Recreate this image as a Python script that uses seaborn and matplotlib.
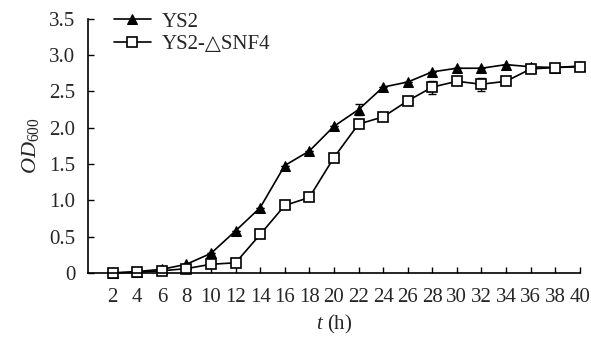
import numpy as np
import pandas as pd
import matplotlib
matplotlib.use("Agg")
import matplotlib.pyplot as plt
import seaborn as sns

# ── Data ───────────────────────────────────────────────────────────────────────
hours = [2, 4, 6, 8, 10, 12, 14, 16, 18, 20, 22, 24, 26, 28, 30, 32, 34, 36, 38, 40]
od_ys2 = [0.00, 0.02, 0.05, 0.12, 0.27, 0.58, 0.90, 1.48, 1.68, 2.02, 2.25, 2.56,
          2.63, 2.77, 2.82, 2.82, 2.87, 2.84, 2.83, 2.85]
od_snf4 = [0.00, 0.01, 0.03, 0.06, 0.12, 0.14, 0.53, 0.93, 1.04, 1.59, 2.05, 2.15,
           2.37, 2.56, 2.64, 2.60, 2.64, 2.81, 2.83, 2.84]
err_ys2 = [0, 0, 0, 0, 0, 0, 0, 0, 0, 0, 0.08, 0, 0, 0, 0, 0, 0, 0, 0, 0]
err_snf4 = [0, 0, 0, 0, 0, 0, 0, 0, 0, 0, 0, 0, 0, 0.09, 0, 0.09, 0, 0, 0, 0.05]

label_ys2 = "YS2"
label_snf4 = "YS2-\u25b3SNF4"
y_ticks = [0, 0.5, 1.0, 1.5, 2.0, 2.5, 3.0, 3.5]
y_ticklabels = ["0", "0.5", "1.0", "1.5", "2.0", "2.5", "3.0", "3.5"]

df = pd.DataFrame({
    "t": hours * 2,
    "od": od_ys2 + od_snf4,
    "err": err_ys2 + err_snf4,
    "strain": [label_ys2] * len(hours) + [label_snf4] * len(hours),
})

# ── Style ──────────────────────────────────────────────────────────────────────
sns.set_style("white")
plt.rcParams["font.family"] = ["Liberation Serif", "DejaVu Serif"]
plt.rcParams["mathtext.fontset"] = "custom"
plt.rcParams["mathtext.rm"] = "Liberation Serif"
plt.rcParams["mathtext.it"] = "Liberation Serif:italic"

fig, ax = plt.subplots(figsize=(5.91, 3.37), dpi=100)
fig.subplots_adjust(left=0.149, right=0.981, bottom=0.19, top=0.944)

sub = df[df["strain"] == label_ys2]
sns.lineplot(data=sub, x="t", y="od", ax=ax, color="black", lw=1.2,
             marker="^", markersize=7.5, markerfacecolor="black",
             markeredgecolor="black", label=label_ys2, clip_on=False)
ax.errorbar(sub["t"], sub["od"], yerr=sub["err"], fmt="none", ecolor="black",
            elinewidth=1, capsize=3, zorder=1)

sub = df[df["strain"] == label_snf4]
sns.lineplot(data=sub, x="t", y="od", ax=ax, color="black", lw=1.2,
             marker="s", markersize=6.5, markerfacecolor="white",
             markeredgecolor="black", markeredgewidth=1.2,
             label=label_snf4, clip_on=False)
ax.errorbar(sub["t"], sub["od"], yerr=sub["err"], fmt="none", ecolor="black",
            elinewidth=1, capsize=3, zorder=1)

# ── Axes ───────────────────────────────────────────────────────────────────────
ax.set_xlim(0, 40)
ax.set_ylim(0, 3.5)
ax.set_xticks(hours)
ax.set_xticklabels([str(h) for h in hours], fontsize=15)
ax.set_yticks(y_ticks)
ax.set_yticklabels(y_ticklabels, fontsize=15)
ax.tick_params(axis="both", direction="in", length=4, width=1, color="black",
               bottom=True, left=True)
ax.tick_params(axis="x", pad=11)
ax.tick_params(axis="y", pad=9)
for s in ["top", "right"]:
    ax.spines[s].set_visible(False)
for s in ["left", "bottom"]:
    ax.spines[s].set_color("black")
    ax.spines[s].set_linewidth(1.2)

ax.set_xlabel(r"$t$ (h)", fontsize=15, labelpad=4)
ax.set_ylabel(r"$OD_{\mathrm{600}}$", fontsize=16, labelpad=6)

leg = ax.legend(loc="upper left", bbox_to_anchor=(0.035, 1.06), frameon=False,
                fontsize=15, handlelength=1.8, handletextpad=0.5,
                labelspacing=0.15, borderaxespad=0)

plt.savefig("out.png", dpi=100)
